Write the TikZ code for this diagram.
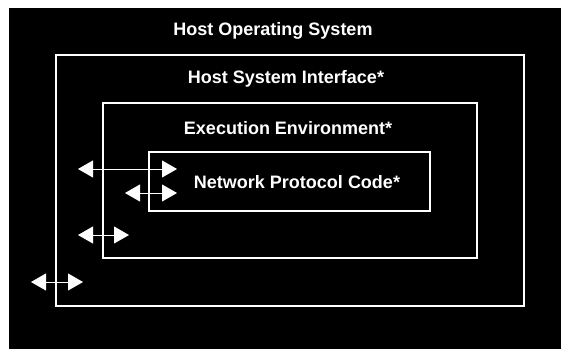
\documentclass[tikz,border=0pt]{standalone}
\usepackage{fontspec}
\setmainfont{Liberation Sans}
\usetikzlibrary{arrows.meta}
\begin{document}
\begin{tikzpicture}[x=1pt,y=-1pt,
  frame/.style={draw=white, line width=1.5pt},
  lbl/.style={text=white, font=\fontsize{18}{20}\selectfont\bfseries},
  dbl/.style={white, line width=0.8pt, {Triangle[length=15pt,width=17pt]}-{Triangle[length=15pt,width=17pt]}}]
\useasboundingbox (0,0) rectangle (561,349);
\fill[black] (9,8) rectangle (561,349);
% nested layers
\draw[frame] (56,55) rectangle (524,306);
\draw[frame] (103,103) rectangle (477,258);
\draw[frame] (149,152) rectangle (430,211);
\node[lbl] (hos) at (273,31) {Host Operating System};
\node[lbl] (hsi) at (286,79) {Host System Interface*};
\node[lbl] (env) at (288,128) {Execution Environment*};
\node[lbl] (npc) at (297,182) {Network Protocol Code*};
% interfaces
\coordinate (a1) at (78,169);  \coordinate (a2) at (177,169);
\coordinate (b1) at (125,193); \coordinate (b2) at (177,193);
\coordinate (c1) at (78,235);  \coordinate (c2) at (129,235);
\coordinate (d1) at (31,282);  \coordinate (d2) at (83,282);
\draw[dbl] (a1) -- (a2);
\draw[dbl] (b1) -- (b2);
\draw[dbl] (c1) -- (c2);
\draw[dbl] (d1) -- (d2);
\end{tikzpicture}
\end{document}
